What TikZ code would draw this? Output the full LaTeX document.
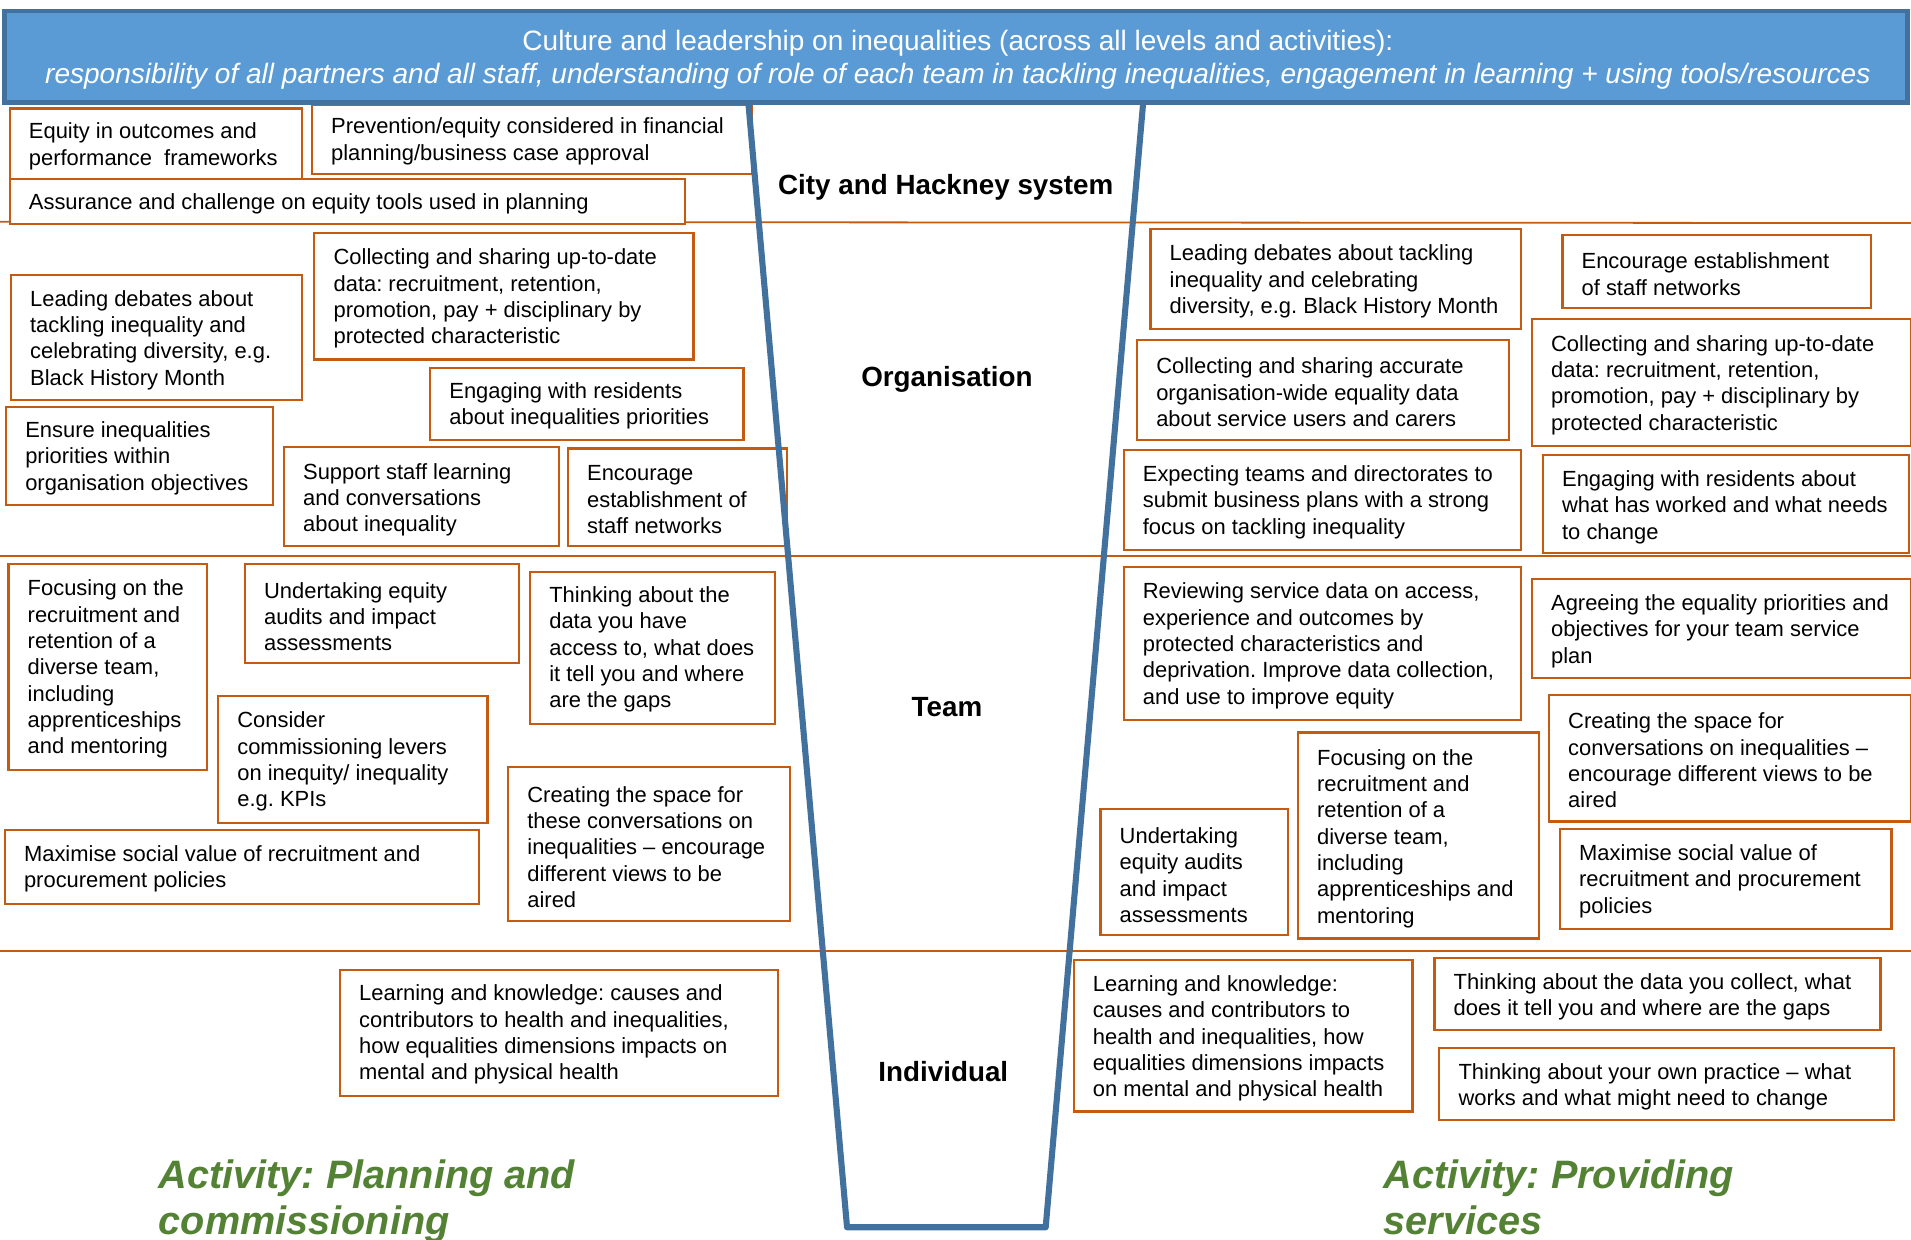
\documentclass[tikz,border=0pt]{standalone}
\usepackage{fontspec}
\setmainfont{Liberation Sans}
\usepackage{xcolor}
\definecolor{hdrblue}{HTML}{5B9BD5}
\definecolor{hdredge}{HTML}{41719C}
\definecolor{funnelblue}{HTML}{41719C}
\definecolor{boxorange}{HTML}{C55A11}
\definecolor{actgreen}{HTML}{548235}
\frenchspacing

\begin{document}
\begin{tikzpicture}[x=0.75pt,y=0.75pt,yscale=-1,xscale=1,
	ibox/.style={draw=boxorange, line width=1.3pt, fill=white},
	itext/.style={anchor=west, align=left, inner xsep=11.6pt, inner ysep=0pt, font=\fontsize{13.5}{16.2}\selectfont},
	level/.style={inner sep=0pt, font=\fontsize{17.1}{20}\selectfont\bfseries},
	activity/.style={anchor=north west, align=left, inner sep=0pt, text=actgreen, font=\fontsize{24.4}{28.5}\selectfont\bfseries\itshape},
	divider/.style={draw=boxorange, line width=1.1pt},
	funnel/.style={draw=funnelblue, line width=3.75pt, line join=round}]
				\useasboundingbox (0,0) rectangle (1568,1017);

				%Straight Lines: level dividers
				\draw[divider] (0,182) -- (1568,183) ;
				\draw[divider] (0,456) -- (1568,456) ;
				\draw[divider] (0,780) -- (1568,780) ;

				%Shape: Rectangle -- planning, system
				\draw[ibox] (8,89) rectangle (248,147) ;
				\draw[ibox] (256,86) rectangle (617,143) ;
				\draw[ibox] (8,147) rectangle (562,184) ;
				%Shape: Rectangle -- planning, organisation
				\draw[ibox] (258,191) rectangle (569,295) ;
				\draw[ibox] (9,226) rectangle (248,328) ;
				\draw[ibox] (353,302) rectangle (610,361) ;
				\draw[ibox] (5,334) rectangle (224,414) ;
				\draw[ibox] (233,367) rectangle (459,448) ;
				\draw[ibox] (466,368) rectangle (646,448) ;
				%Shape: Rectangle -- planning, team
				\draw[ibox] (7,463) rectangle (170,632) ;
				\draw[ibox] (201,463) rectangle (426,544) ;
				\draw[ibox] (435,469) rectangle (636,594) ;
				\draw[ibox] (179,571) rectangle (400,675) ;
				\draw[ibox] (4,681) rectangle (393,742) ;
				\draw[ibox] (417,629) rectangle (648,756) ;
				%Shape: Rectangle -- planning, individual
				\draw[ibox] (279,796) rectangle (638,899) ;

				%Shape: Rectangle -- services, organisation
				\draw[ibox] (944,188) rectangle (1248,270) ;
				\draw[ibox] (1282,193) rectangle (1535,253) ;
				\draw[ibox] (933,279) rectangle (1238,361) ;
				\draw[ibox] (1257,262) rectangle (1568,366) ;
				\draw[ibox] (922,369) rectangle (1248,451) ;
				\draw[ibox] (1266,373) rectangle (1566,454) ;
				%Shape: Rectangle -- services, team
				\draw[ibox] (922,465) rectangle (1248,591) ;
				\draw[ibox] (1257,475) rectangle (1568,556) ;
				\draw[ibox] (1271,570) rectangle (1568,674) ;
				\draw[ibox] (1065,601) rectangle (1263,770) ;
				\draw[ibox] (903,664) rectangle (1057,767) ;
				\draw[ibox] (1280,680) rectangle (1552,762) ;
				%Shape: Rectangle -- services, individual
				\draw[ibox] (881,788) rectangle (1159,912) ;
				\draw[ibox] (1177,786) rectangle (1543,845) ;
				\draw[ibox] (1181,860) rectangle (1554,919) ;

				%Shape: Funnel
				\draw[funnel] (614,84) -- (695,1007) -- (858,1007) -- (938,84) ;

				%Shape: Header bar
				\draw[draw=hdredge, fill=hdrblue, line width=3pt] (4,9) rectangle (1565,84) ;

				% Text Node
				\node[align=center, inner sep=0pt, text=white, font=\fontsize{17.25}{20.25}\selectfont] (culture) at (786,49) {Culture and leadership on inequalities (across all levels and activities):\\\textit{responsibility of all partners and all staff, understanding of role of each team in tackling inequalities, engagement in learning + using tools/resources}};

				% Text Node -- levels
				\node[level] (lvlsys) at (776,154) {City and Hackney system};
				\node[level] (lvlorg) at (777,311) {Organisation};
				\node[level] (lvlteam) at (777,580) {Team};
				\node[level] (lvlind) at (774,879) {Individual};

				% Text Node -- planning
				\node[itext] (plan1) at (8,120) {Equity in outcomes and\\performance\ \ frameworks};
				\node[itext] (plan2) at (256,116) {Prevention/equity considered in financial\\planning/business case approval};
				\node[itext] (plan3) at (8,167) {Assurance and challenge on equity tools used in planning};
				\node[itext] (plan4) at (258,245) {Collecting and sharing up-to-date\\data: recruitment, retention,\\promotion, pay + disciplinary by\\protected characteristic};
				\node[itext] (plan5) at (9,279) {Leading debates about\\tackling inequality and\\celebrating diversity, e.g.\\Black History Month};
				\node[itext] (plan6) at (353,333) {Engaging with residents\\about inequalities priorities};
				\node[itext] (plan7) at (5,376) {Ensure inequalities\\priorities within\\organisation objectives};
				\node[itext] (plan8) at (233,410) {Support staff learning\\and conversations\\about inequality};
				\node[itext] (plan9) at (466,410) {Encourage\\establishment of\\staff networks};
				\node[itext] (plan10) at (7,549) {Focusing on the\\recruitment and\\retention of a\\diverse team,\\including\\apprenticeships\\and mentoring};
				\node[itext] (plan11) at (201,506) {Undertaking equity\\audits and impact\\assessments};
				\node[itext] (plan12) at (435,533) {Thinking about the\\data you have\\access to, what does\\it tell you and where\\are the gaps};
				\node[itext] (plan13) at (179,625) {Consider\\commissioning levers\\on inequity/ inequality\\e.g. KPIs};
				\node[itext] (plan14) at (4,713) {Maximise social value of recruitment and\\procurement policies};
				\node[itext] (plan15) at (417,695) {Creating the space for\\these conversations on\\inequalities -- encourage\\different views to be\\aired};
				\node[itext] (plan16) at (279,849) {Learning and knowledge: causes and\\contributors to health and inequalities,\\how equalities dimensions impacts on\\mental and physical health};

				% Text Node -- services
				\node[itext] (serv1) at (944,231) {Leading debates about tackling\\inequality and celebrating\\diversity, e.g. Black History Month};
				\node[itext] (serv2) at (1282,225) {Encourage establishment\\of staff networks};
				\node[itext] (serv3) at (933,322) {Collecting and sharing accurate\\organisation-wide equality data\\about service users and carers};
				\node[itext] (serv4) at (1257,316) {Collecting and sharing up-to-date\\data: recruitment, retention,\\promotion, pay + disciplinary by\\protected characteristic};
				\node[itext] (serv5) at (922,412) {Expecting teams and directorates to\\submit business plans with a strong\\focus on tackling inequality};
				\node[itext] (serv6) at (1266,416) {Engaging with residents about\\what has worked and what needs\\to change};
				\node[itext] (serv7) at (922,530) {Reviewing service data on access,\\experience and outcomes by\\protected characteristics and\\deprivation. Improve data collection,\\and use to improve equity};
				\node[itext] (serv8) at (1257,518) {Agreeing the equality priorities and\\objectives for your team service\\plan};
				\node[itext] (serv9) at (1271,624) {Creating the space for\\conversations on inequalities --\\encourage different views to be\\aired};
				\node[itext] (serv10) at (1065,688) {Focusing on the\\recruitment and\\retention of a\\diverse team,\\including\\apprenticeships and\\mentoring};
				\node[itext] (serv11) at (903,718) {Undertaking\\equity audits\\and impact\\assessments};
				\node[itext] (serv12) at (1280,723) {Maximise social value of\\recruitment and procurement\\policies};
				\node[itext] (serv13) at (881,852) {Learning and knowledge:\\causes and contributors to\\health and inequalities, how\\equalities dimensions impacts\\on mental and physical health};
				\node[itext] (serv14) at (1177,818) {Thinking about the data you collect, what\\does it tell you and where are the gaps};
				\node[itext] (serv15) at (1181,892) {Thinking about your own practice -- what\\works and what might need to change};

				% Text Node -- activities
				\node[activity] (actplan) at (130,951) {Activity: Planning and\\commissioning};
				\node[activity] (actserv) at (1135,951) {Activity: Providing\\services};

\end{tikzpicture}
\end{document}
